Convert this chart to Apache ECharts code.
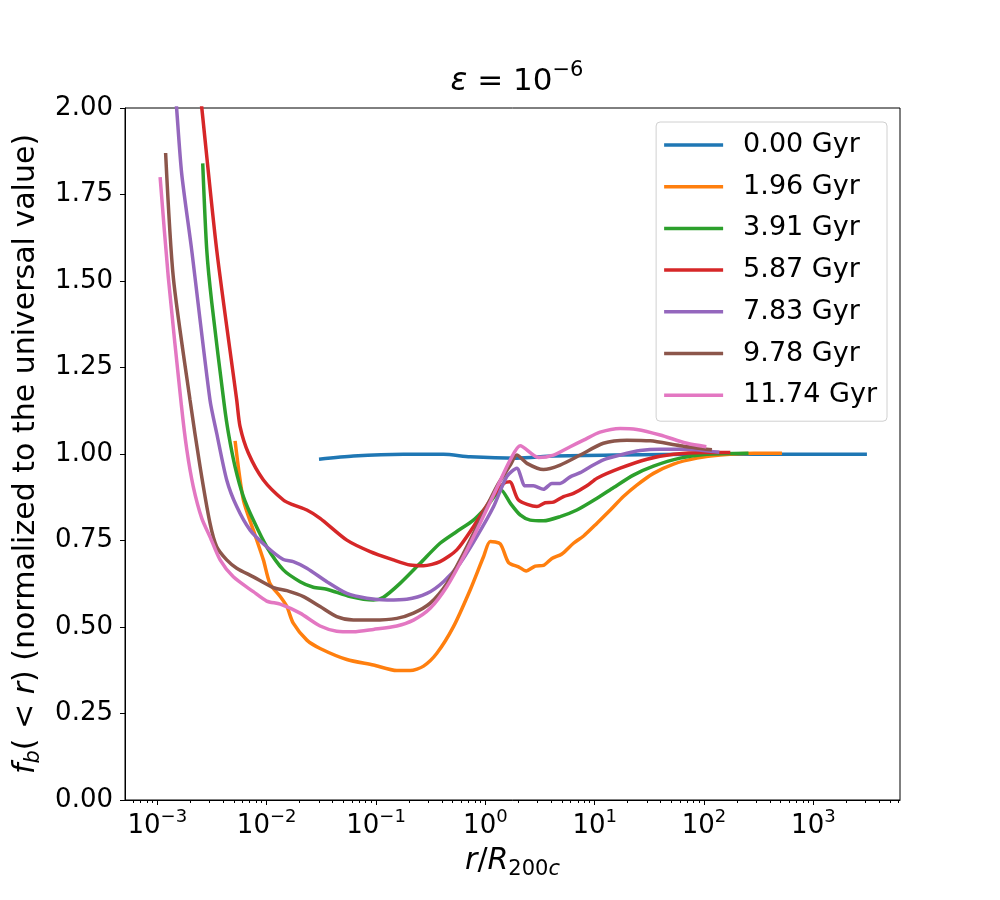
<!DOCTYPE html>
<html>
<head>
<meta charset="utf-8">
<script src="https://cdn.jsdelivr.net/npm/echarts@6/dist/echarts.min.js"></script>
<style>
html, body { margin: 0; padding: 0; background: #fff; }
#main { width: 1000px; height: 900px; }
</style>
</head>
<body>
<div id="main"></div>
<script>
// snapshots: [r/R200c, fb normalized]
var names = ['0.00 Gyr', '1.96 Gyr', '3.91 Gyr', '5.87 Gyr', '7.83 Gyr', '9.78 Gyr', '11.74 Gyr'];
var colors = ['#1f77b4', '#ff7f0e', '#2ca02c', '#d62728', '#9467bd', '#8c564b', '#e377c2'];

var gyr000 = [[0.0301,0.985],[0.0621,0.994],[0.178,0.999],[0.414,0.999],[0.726,0.992],[1.94,0.988],
  [4.20,0.994],[17.1,0.997],[100,0.999],[1000,0.999],[3090,0.999]];
var gyr196 = [[5.14e-3,1.038],[6.12e-3,0.867],[7.55e-3,0.780],[9.33e-3,0.694],[0.0107,0.626],[0.0133,0.588],
  [0.0153,0.559],[0.0175,0.511],[0.0233,0.462],[0.0308,0.438],[0.0541,0.406],[0.0946,0.390],[0.155,0.374],
  [0.205,0.374],[0.272,0.387],[0.360,0.424],[0.511,0.501],[0.726,0.607],[0.962,0.703],[1.11,0.747],
  [1.37,0.740],[1.63,0.686],[2.01,0.674],[2.36,0.662],[2.86,0.676],[3.40,0.678],[4.06,0.698],[5.01,0.711],
  [6.40,0.742],[7.91,0.763],[10.5,0.800],[13.9,0.838],[18.3,0.877],[24.3,0.910],[34.5,0.944],[52.6,0.971],
  [86.1,0.988],[141,0.997],[284,1.002],[516,1.002]];
var gyr391 = [[2.60e-3,1.84],[2.83e-3,1.59],[3.15e-3,1.436],[4.1e-3,1.14],[4.47e-3,1.060],[5.14e-3,0.963],
  [6.12e-3,0.877],[7.55e-3,0.809],[0.01,0.732],[0.0142,0.665],[0.0202,0.631],[0.0267,0.615],[0.0355,0.609],
  [0.0580,0.588],[0.0946,0.578],[0.117,0.586],[0.166,0.626],[0.253,0.684],[0.385,0.742],[0.548,0.776],
  [0.778,0.809],[1.03,0.848],[1.39,0.896],[1.69,0.858],[2.08,0.824],[2.57,0.809],[3.40,0.807],[4.83,0.819],
  [6.87,0.838],[10.5,0.872],[14.9,0.903],[22.6,0.939],[34.5,0.965],[60.5,0.988],[106,0.999],[255,1.002]];
var gyr587 = [[2.36e-3,2.1],[2.55e-3,2.0],[3.49e-3,1.59],[5.32e-3,1.156],[5.71e-3,1.079],[6.81e-3,1.002],
  [9.33e-3,0.925],[0.0142,0.867],[0.0175,0.853],[0.0233,0.838],[0.0308,0.814],[0.0541,0.751],[0.0883,0.718],
  [0.144,0.694],[0.205,0.679],[0.272,0.677],[0.385,0.689],[0.548,0.723],[0.778,0.790],[1.11,0.867],
  [1.47,0.915],[1.67,0.920],[2.01,0.867],[2.96,0.848],[3.52,0.859],[4.20,0.861],[5.19,0.877],[6.40,0.886],
  [8.48,0.908],[10.5,0.930],[17.1,0.959],[30.1,0.985],[52.6,0.999],[99.1,1.004],[174,1.004]];
var gyr783 = [[1.42e-3,2.1],[1.50e-3,2.0],[1.67e-3,1.81],[2.06e-3,1.59],[3.03e-3,1.156],[3.49e-3,1.060],
  [4.31e-3,0.925],[5.32e-3,0.848],[7.05e-3,0.780],[0.01,0.732],[0.0142,0.695],[0.0175,0.689],[0.0233,0.670],
  [0.0355,0.631],[0.0541,0.597],[0.0824,0.583],[0.126,0.578],[0.191,0.580],[0.292,0.597],[0.414,0.631],
  [0.587,0.684],[0.835,0.761],[1.19,0.848],[1.57,0.935],[1.94,0.959],[2.31,0.908],[2.75,0.908],[3.40,0.898],
  [4.06,0.915],[4.83,0.915],[5.97,0.934],[7.37,0.946],[9.10,0.963],[12.0,0.983],[17.1,0.997],[26.1,1.010],
  [39.7,1.014],[69.8,1.014],[138,1.005]];
var gyr978 = [[1.19e-3,1.87],[1.40e-3,1.51],[1.99e-3,1.156],[2.46e-3,0.963],[3.03e-3,0.800],[3.49e-3,0.732],
  [4.31e-3,0.694],[5.32e-3,0.670],[7.55e-3,0.645],[0.0115,0.614],[0.0153,0.605],[0.0217,0.588],[0.0308,0.559],
  [0.0437,0.530],[0.0621,0.520],[0.0946,0.520],[0.155,0.525],[0.220,0.540],[0.313,0.569],[0.445,0.626],
  [0.631,0.713],[0.895,0.809],[1.27,0.906],[1.69,0.968],[1.94,0.997],[2.40,0.973],[3.40,0.955],[4.83,0.968],
  [7.37,0.997],[12.0,1.031],[19.7,1.040],[32.2,1.038],[60.5,1.024],[118,1.012]];
var gyr1174 = [[1.06e-3,1.80],[1.26e-3,1.51],[1.66e-3,1.14],[1.86e-3,1.012],[2.13e-3,0.906],[2.55e-3,0.814],
  [3.03e-3,0.761],[3.75e-3,0.694],[4.95e-3,0.645],[7.55e-3,0.602],[0.01,0.575],[0.0133,0.566],[0.0202,0.540],
  [0.0308,0.503],[0.0437,0.488],[0.0621,0.486],[0.0946,0.493],[0.155,0.503],[0.220,0.520],[0.313,0.554],
  [0.445,0.617],[0.631,0.703],[0.895,0.800],[1.27,0.901],[1.69,0.983],[2.08,1.024],[3.06,0.990],[4.20,0.997],
  [5.97,1.021],[7.91,1.040],[11.2,1.063],[17.1,1.074],[24.3,1.071],[39.7,1.055],[69.8,1.031],[105,1.021]];

var xMajor = [1e-3, 1e-2, 1e-1, 1, 10, 100, 1000];
var yTicks = [0, 0.25, 0.5, 0.75, 1.0, 1.25, 1.5, 1.75, 2.0];
var xMin = 5.06e-4, xMax = 6.2e3;

var allData = [gyr000, gyr196, gyr391, gyr587, gyr783, gyr978, gyr1174];

// minor log ticks 2..9 x 10^n
var xMinor = [];
[1e-4].concat(xMajor).forEach(function (d) {
  for (var k = 2; k <= 9; k++) {
    var v = k * d;
    if (v > xMin && v < xMax) xMinor.push(v);
  }
});

var font = 'DejaVu Sans';

var chart = echarts.init(document.getElementById('main'));

option = {
  animation: false,
  backgroundColor: '#fff',
  textStyle: { fontFamily: font, color: '#000' },
  title: {
    text: '{i|\u03b5} = 10{s|\u22126}',
    left: 512,
    top: 55,
    textAlign: 'center',
    textStyle: {
      fontFamily: font, fontSize: 31, fontWeight: 'normal', color: '#000',
      rich: {
        i: { fontFamily: font, fontSize: 31, fontStyle: 'italic', color: '#000' },
        s: { fontFamily: font, fontSize: 21, color: '#000', padding: [0, 0, 22, 0] }
      }
    }
  },
  grid: {
    left: 125, right: 100, top: 108, bottom: 100,
    show: true, borderColor: '#000', borderWidth: 1
  },
  legend: {
    orient: 'vertical',
    right: 113,
    top: 122,
    data: names,
    icon: 'rect',
    itemWidth: 59,
    itemHeight: 3.5,
    itemGap: 13.7,
    padding: [9, 10, 12, 8],
    borderColor: '#d0d0d0',
    borderWidth: 1,
    borderRadius: 4,
    backgroundColor: 'rgba(255,255,255,0.8)',
    textStyle: { fontFamily: font, fontSize: 27, color: '#000', lineHeight: 28, padding: [0, 0, 0, 15] }
  },
  xAxis: [{
    type: 'log',
    logBase: 10,
    min: xMin,
    max: xMax,
    name: '{i|r}/{i|R}{sub|200}{isub|c}',
    nameLocation: 'middle',
    nameGap: 43,
    nameTextStyle: {
      fontFamily: font, fontSize: 30, color: '#000',
      rich: {
        i: { fontFamily: font, fontSize: 30, fontStyle: 'italic', color: '#000' },
        sub: { fontFamily: font, fontSize: 21, color: '#000', padding: [16, 0, 0, 0] },
        isub: { fontFamily: font, fontSize: 21, fontStyle: 'italic', color: '#000', padding: [16, 0, 0, 0] }
      }
    },
    axisLine: { show: true, lineStyle: { color: '#000', width: 1 } },
    axisTick: { show: true, inside: false, length: 5, lineStyle: { color: '#000' }, customValues: xMajor },
    axisLabel: {
      customValues: xMajor,
      margin: 8,
      fontFamily: font, fontSize: 26, color: '#000',
      formatter: function (v) {
        var e = Math.round(Math.log10(v));
        return '10{s|' + String(e).replace('-', '\u2212') + '}';
      },
      rich: {
        s: { fontFamily: font, fontSize: 18, color: '#000', padding: [0, 0, 18, 0] }
      }
    },
    splitLine: { show: false },
    minorTick: { show: false }
  }, {
    type: 'log',
    logBase: 10,
    min: xMin,
    max: xMax,
    position: 'bottom',
    axisLine: { show: false },
    axisTick: { show: true, inside: false, length: 3, lineStyle: { color: '#000' }, customValues: xMinor },
    axisLabel: { show: false },
    splitLine: { show: false }
  }],
  yAxis: {
    type: 'value',
    min: 0,
    max: 2,
    interval: 0.25,
    name: '{i|f}{sub|b}( < {i|r}) (normalized to the universal value)',
    nameLocation: 'middle',
    nameRotate: 90,
    nameGap: 77,
    nameTextStyle: {
      fontFamily: font, fontSize: 30, color: '#000',
      rich: {
        i: { fontFamily: font, fontSize: 30, fontStyle: 'italic', color: '#000' },
        sub: { fontFamily: font, fontSize: 21, fontStyle: 'italic', color: '#000', padding: [16, 0, 0, 0] }
      }
    },
    axisLine: { show: true, lineStyle: { color: '#000', width: 1 } },
    axisTick: { show: true, inside: false, length: 5, lineStyle: { color: '#000' } },
    axisLabel: {
      margin: 12,
      fontFamily: font, fontSize: 26, color: '#000',
      formatter: function (v) { return v.toFixed(2); }
    },
    splitLine: { show: false }
  },
  series: allData.map(function (d, i) {
    return {
      name: names[i],
      type: 'line',
      data: d,
      xAxisIndex: 0,
      showSymbol: false,
      symbol: 'none',
      smooth: 0.25,
      clip: true,
      lineStyle: { color: colors[i], width: 3.5 },
      itemStyle: { color: colors[i] }
    };
  })
};

chart.setOption(option);
</script>
</body>
</html>
